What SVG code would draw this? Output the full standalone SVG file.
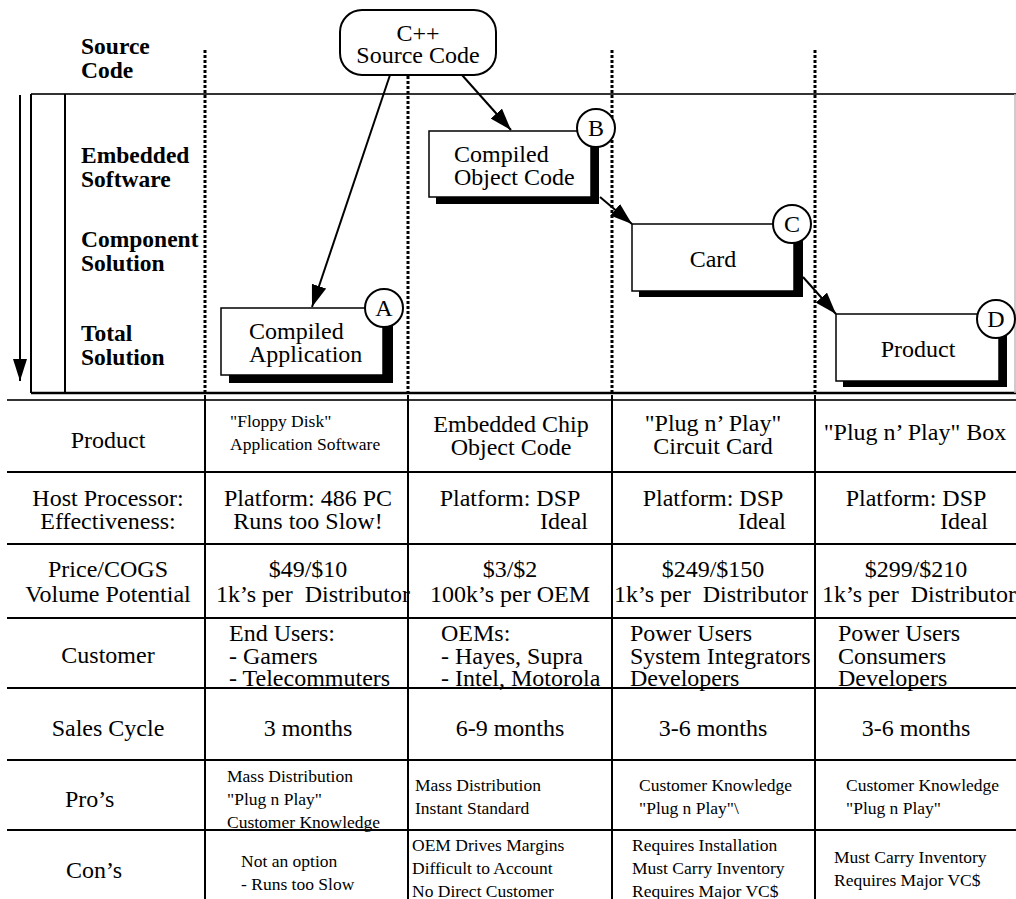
<svg xmlns="http://www.w3.org/2000/svg" width="1016" height="899" viewBox="0 0 1016 899">
<style>
text{font-family:"Liberation Serif","Times New Roman",serif;fill:#000;font-size:24px}
.b{font-weight:bold;font-size:23.5px}
.s{font-size:17.5px}
.c{text-anchor:middle}
.e{text-anchor:end}
.dot{stroke:#000;stroke-width:3;stroke-dasharray:3 2;fill:none}
.ln{stroke:#000;stroke-width:2;fill:none}
.gl{stroke:#333;stroke-width:2;fill:none}
.box{fill:#fff;stroke:#000;stroke-width:1.5}
.sh{fill:#000}
.cir{fill:#fff;stroke:#000;stroke-width:2}
.arr{stroke:#000;stroke-width:2;fill:none;marker-end:url(#ah)}
</style>
<defs>
<marker id="ah" viewBox="0 0 22 15" refX="22" refY="7.5" markerWidth="22" markerHeight="15" markerUnits="userSpaceOnUse" orient="auto"><path d="M0,0 L22,7.5 L0,15 z" fill="#000"/></marker>
<marker id="ahv" viewBox="0 0 22 14" refX="22" refY="7" markerWidth="22" markerHeight="14" markerUnits="userSpaceOnUse" orient="auto"><path d="M0,0 L22,7 L0,14 z" fill="#000"/></marker>
</defs>
<rect width="1016" height="899" fill="#fff"/>

<g id="frame">
<line class="gl" x1="31" y1="94" x2="1016" y2="94"/>
<line class="ln" x1="31" y1="94" x2="31" y2="393"/>
<line class="ln" x1="65" y1="94" x2="65" y2="393"/>
<line stroke="#000" stroke-width="2.5" x1="31" y1="393" x2="1016" y2="393"/>
<line stroke="#bbb" stroke-width="1.5" x1="1015" y1="94" x2="1015" y2="393"/>
<line stroke="#000" stroke-width="2" x1="20" y1="95" x2="20" y2="381" marker-end="url(#ahv)"/>
</g>

<g id="dotted">
<line class="dot" x1="205" y1="50" x2="205" y2="395"/>
<line class="dot" x1="408" y1="76" x2="408" y2="395" stroke-width="3.5"/>
<line class="dot" x1="612" y1="50" x2="612" y2="395"/>
<line class="dot" x1="815" y1="50" x2="815" y2="395"/>
</g>

<g id="row-labels">
<text class="b" x="81" y="54">Source</text>
<text class="b" x="81" y="78">Code</text>
<text class="b" x="81" y="163">Embedded</text>
<text class="b" x="81" y="187">Software</text>
<text class="b" x="81" y="247">Component</text>
<text class="b" x="81" y="271">Solution</text>
<text class="b" x="81" y="341">Total</text>
<text class="b" x="81" y="365">Solution</text>
</g>

<g id="source">
<rect x="340" y="10" width="156" height="65" rx="22" ry="22" fill="#fff" stroke="#000" stroke-width="2"/>
<text class="c" x="418" y="41">C++</text>
<text class="c" x="418" y="63">Source Code</text>
</g>

<g id="nodeA">
<rect class="sh" x="229" y="316" width="164" height="67"/>
<rect class="box" x="221" y="308" width="162" height="67"/>
<text x="249" y="339">Compiled</text>
<text x="249" y="362">Application</text>
<circle class="cir" cx="384" cy="308" r="19"/>
<text class="c" x="384" y="316">A</text>
</g>

<g id="nodeB">
<rect class="sh" x="436" y="138" width="163" height="66"/>
<rect class="box" x="429" y="131" width="162" height="66"/>
<text x="454" y="162">Compiled</text>
<text x="454" y="185">Object Code</text>
<circle class="cir" cx="596" cy="128" r="19"/>
<text class="c" x="596" y="136">B</text>
</g>

<g id="nodeC">
<rect class="sh" x="639" y="231" width="164" height="66"/>
<rect class="box" x="632" y="224" width="162" height="67"/>
<text class="c" x="713" y="267">Card</text>
<circle class="cir" cx="792" cy="224" r="19"/>
<text class="c" x="792" y="232">C</text>
</g>

<g id="nodeD">
<rect class="sh" x="843" y="321" width="164" height="66"/>
<rect class="box" x="836" y="314" width="163" height="67"/>
<text class="c" x="918" y="357">Product</text>
<circle class="cir" cx="996" cy="319" r="19"/>
<text class="c" x="996" y="327">D</text>
</g>

<g id="connectors">
<line class="arr" x1="390" y1="75" x2="312" y2="307"/>
<line class="arr" x1="462" y1="75" x2="511" y2="130"/>
<line class="arr" x1="600" y1="197" x2="632" y2="224"/>
<line class="arr" x1="803" y1="277" x2="836" y2="314"/>
</g>

<g id="table-grid">
<line class="gl" x1="7" y1="400" x2="1016" y2="400"/>
<line class="ln" x1="7" y1="472" x2="1016" y2="472"/>
<line class="ln" x1="7" y1="544" x2="1016" y2="544"/>
<line class="ln" x1="7" y1="618" x2="1016" y2="618"/>
<line class="ln" x1="7" y1="688" x2="1016" y2="688"/>
<line class="ln" x1="7" y1="760" x2="1016" y2="760"/>
<line class="ln" x1="7" y1="830" x2="1016" y2="830"/>
<line class="ln" x1="205" y1="395" x2="205" y2="899"/>
<line class="ln" x1="408" y1="395" x2="408" y2="899"/>
<line class="ln" x1="612" y1="395" x2="612" y2="899"/>
<line class="ln" x1="815" y1="395" x2="815" y2="899"/>
</g>

<g id="table-text">
<text class="c" x="108" y="448">Product</text>
<text class="s" x="230" y="427">"Floppy Disk"</text>
<text class="s" x="230" y="450">Application Software</text>
<text class="c" x="511" y="432">Embedded Chip</text>
<text class="c" x="511" y="455">Object Code</text>
<text class="c" x="713" y="431">"Plug n’ Play"</text>
<text class="c" x="713" y="454">Circuit Card</text>
<text class="c" x="915" y="440">"Plug n’ Play" Box</text>

<text class="c" x="108" y="506">Host Processor:</text>
<text class="c" x="108" y="529">Effectiveness:</text>
<text class="c" x="308" y="506">Platform: 486 PC</text>
<text class="c" x="308" y="529">Runs too Slow!</text>
<text class="c" x="510" y="506">Platform: DSP</text>
<text class="e" x="588" y="529">Ideal</text>
<text class="c" x="713" y="506">Platform: DSP</text>
<text class="e" x="786" y="529">Ideal</text>
<text class="c" x="916" y="506">Platform: DSP</text>
<text class="e" x="988" y="529">Ideal</text>

<text class="c" x="108" y="577">Price/COGS</text>
<text class="c" x="108" y="602">Volume Potential</text>
<text class="c" x="308" y="577">$49/$10</text>
<text x="216" y="602" xml:space="preserve" textLength="194" lengthAdjust="spacingAndGlyphs">1k’s per  Distributor</text>
<text class="c" x="510" y="577">$3/$2</text>
<text class="c" x="510" y="602">100k’s per OEM</text>
<text class="c" x="713" y="577">$249/$150</text>
<text x="614" y="602" xml:space="preserve" textLength="194" lengthAdjust="spacingAndGlyphs">1k’s per  Distributor</text>
<text class="c" x="916" y="577">$299/$210</text>
<text x="822" y="602" xml:space="preserve" textLength="194" lengthAdjust="spacingAndGlyphs">1k’s per  Distributor</text>

<text class="c" x="108" y="663">Customer</text>
<text x="229" y="641">End Users:</text>
<text x="229" y="664">- Gamers</text>
<text x="229" y="686">- Telecommuters</text>
<text x="441" y="641">OEMs:</text>
<text x="441" y="664">- Hayes, Supra</text>
<text x="441" y="686">- Intel, Motorola</text>
<text x="630" y="641">Power Users</text>
<text x="630" y="664">System Integrators</text>
<text x="630" y="686">Developers</text>
<text x="838" y="641">Power Users</text>
<text x="838" y="664">Consumers</text>
<text x="838" y="686">Developers</text>

<text class="c" x="108" y="736">Sales Cycle</text>
<text class="c" x="308" y="736">3 months</text>
<text class="c" x="510" y="736">6-9 months</text>
<text class="c" x="713" y="736">3-6 months</text>
<text class="c" x="916" y="736">3-6 months</text>

<text x="65" y="807">Pro’s</text>
<text class="s" x="227" y="782">Mass Distribution</text>
<text class="s" x="227" y="805">"Plug n Play"</text>
<text class="s" x="227" y="828">Customer Knowledge</text>
<text class="s" x="415" y="791">Mass Distribution</text>
<text class="s" x="415" y="814">Instant Standard</text>
<text class="s" x="639" y="791">Customer Knowledge</text>
<text class="s" x="639" y="814">"Plug n Play"\</text>
<text class="s" x="846" y="791">Customer Knowledge</text>
<text class="s" x="846" y="814">"Plug n Play"</text>

<text x="66" y="878">Con’s</text>
<text class="s" x="241" y="867">Not an option</text>
<text class="s" x="241" y="890">- Runs too Slow</text>
<text class="s" x="412" y="851">OEM Drives Margins</text>
<text class="s" x="412" y="874">Difficult to Account</text>
<text class="s" x="412" y="897">No Direct Customer</text>
<text class="s" x="632" y="851">Requires Installation</text>
<text class="s" x="632" y="874">Must Carry Inventory</text>
<text class="s" x="632" y="897">Requires Major VC$</text>
<text class="s" x="834" y="863">Must Carry Inventory</text>
<text class="s" x="834" y="886">Requires Major VC$</text>
</g>
</svg>
